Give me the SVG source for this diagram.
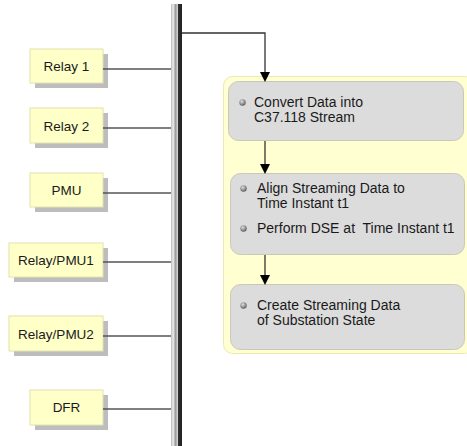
<svg xmlns="http://www.w3.org/2000/svg" width="467" height="446" viewBox="0 0 467 446">
<defs>
<linearGradient id="bus" x1="0" y1="0" x2="1" y2="0">
<stop offset="0" stop-color="#b8b8b8"/>
<stop offset="0.2" stop-color="#eeeeee"/>
<stop offset="0.4" stop-color="#9a9a9a"/>
<stop offset="0.6" stop-color="#d0d0d0"/>
<stop offset="0.68" stop-color="#303030"/>
<stop offset="1" stop-color="#202020"/>
</linearGradient>
<radialGradient id="dot" cx="0.4" cy="0.35" r="0.7">
<stop offset="0" stop-color="#e0e0e0"/>
<stop offset="1" stop-color="#555555"/>
</radialGradient>
<marker id="arr" markerWidth="10" markerHeight="10" refX="8" refY="5" orient="auto" markerUnits="userSpaceOnUse">
<path d="M0,0 L10,5 L0,10 Z" fill="#000"/>
</marker>
</defs>
<style>
.dev rect.sh{fill:#bdbdbd}
.dev rect.bx{fill:#ffffc8;stroke:#e2e2b0;stroke-width:1}
.dev text{font-family:"Liberation Sans",Arial,sans-serif;font-size:13.5px;fill:#1a1a1a;text-anchor:middle}
.step rect{fill:#dcdcdc;stroke:#c9c9b8;stroke-width:1}
.step text{font-family:"Liberation Sans",Arial,sans-serif;font-size:14px;fill:#1a1a1a}
.conn{stroke:#555;stroke-width:1.3;fill:none}
.flow{stroke:#333;stroke-width:1.3;fill:none}
</style>
<rect id="bus" x="171" y="4" width="11" height="442" fill="url(#bus)"/>
<g id="relay1" class="dev"><rect class="sh" x="35" y="54" width="73" height="34"/><rect class="bx" x="30" y="49" width="73" height="34"/><text x="66.5" y="71">Relay 1</text></g>
<g id="relay2" class="dev"><rect class="sh" x="35" y="113" width="73" height="35"/><rect class="bx" x="30" y="108" width="73" height="35"/><text x="66.5" y="131">Relay 2</text></g>
<g id="pmu" class="dev"><rect class="sh" x="35" y="178" width="73" height="34"/><rect class="bx" x="30" y="173" width="73" height="34"/><text x="66.5" y="195">PMU</text></g>
<g id="relaypmu1" class="dev"><rect class="sh" x="14" y="248" width="94" height="34"/><rect class="bx" x="9" y="243" width="94" height="34"/><text x="56" y="265">Relay/PMU1</text></g>
<g id="relaypmu2" class="dev"><rect class="sh" x="14" y="321" width="94" height="35"/><rect class="bx" x="9" y="316" width="94" height="35"/><text x="56" y="339">Relay/PMU2</text></g>
<g id="dfr" class="dev"><rect class="sh" x="35" y="395" width="73" height="35"/><rect class="bx" x="30" y="390" width="73" height="35"/><text x="66.5" y="412">DFR</text></g>
<g id="container">
<rect x="223.5" y="76.5" width="250" height="277" rx="9" fill="#ffffd2" stroke="#eaeab2"/>
</g>
<g id="step1" class="step">
<rect x="228.5" y="81.5" width="235" height="59" rx="10"/>
<circle cx="242.5" cy="102.5" r="3.2" fill="url(#dot)"/>
<text x="254" y="107">Convert Data into</text>
<text x="254" y="122">C37.118 Stream</text>
</g>
<g id="step2" class="step">
<rect x="230.5" y="173.5" width="234" height="81" rx="10"/>
<circle cx="243.5" cy="188.5" r="3.2" fill="url(#dot)"/>
<text x="257" y="193">Align Streaming Data to</text>
<text x="257" y="208">Time Instant t1</text>
<circle cx="243.5" cy="228.5" r="3.2" fill="url(#dot)"/>
<text x="257" y="233" xml:space="preserve">Perform DSE at  Time Instant t1</text>
</g>
<g id="step3" class="step">
<rect x="230.5" y="284.5" width="234" height="65" rx="10"/>
<circle cx="243.5" cy="305.5" r="3.2" fill="url(#dot)"/>
<text x="257" y="310">Create Streaming Data</text>
<text x="257" y="325">of Substation State</text>
</g>
<g id="connectors">
<line class="conn" x1="103" y1="69" x2="171" y2="69"/>
<line class="conn" x1="103" y1="128" x2="171" y2="128"/>
<line class="conn" x1="103" y1="193" x2="171" y2="193"/>
<line class="conn" x1="103" y1="262" x2="171" y2="262"/>
<line class="conn" x1="103" y1="336" x2="171" y2="336"/>
<line class="conn" x1="103" y1="409" x2="171" y2="409"/>
<polyline class="flow" points="182,33 265,33 265,80" marker-end="url(#arr)"/>
<line class="flow" x1="265" y1="141" x2="265" y2="172" marker-end="url(#arr)"/>
<line class="flow" x1="265" y1="255" x2="265" y2="283" marker-end="url(#arr)"/>
</g>
</svg>
